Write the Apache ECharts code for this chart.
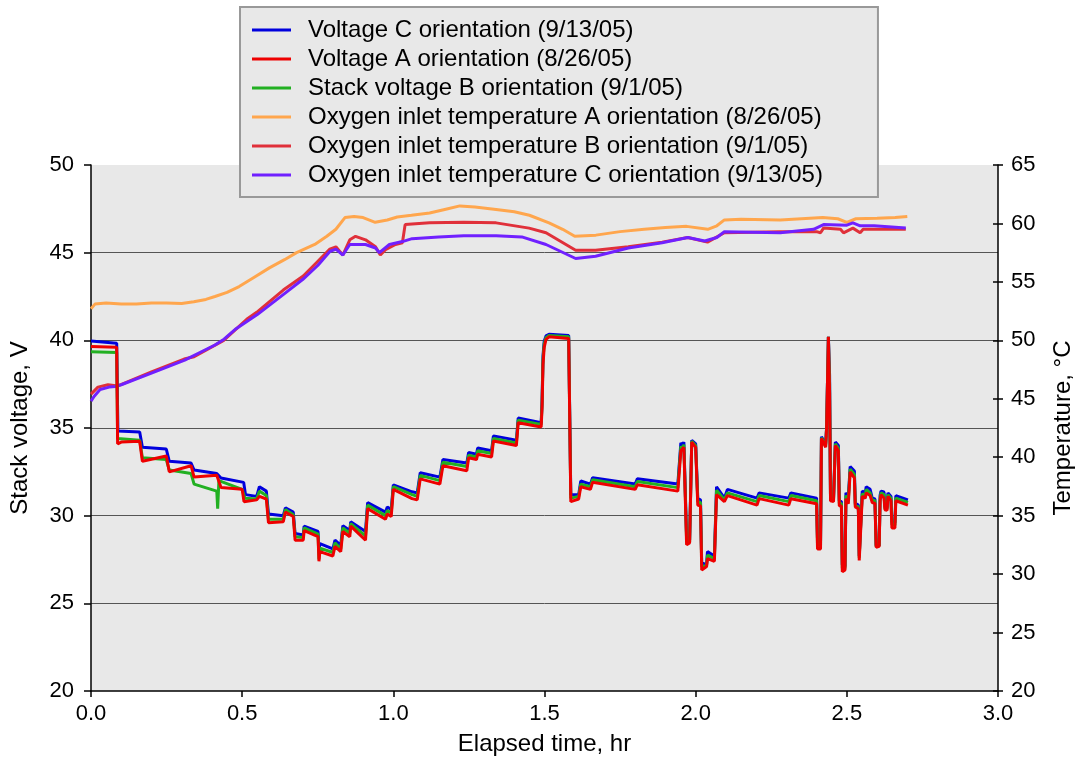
<!DOCTYPE html>
<html>
<head>
<meta charset="utf-8">
<script src="https://cdn.jsdelivr.net/npm/echarts@6/dist/echarts.min.js"></script>
<style>html,body{margin:0;padding:0;background:#fff}#c{width:1083px;height:761px}</style>
</head>
<body>
<div id="c"></div>
<script>
// Elapsed time (hr), value pairs
const voltageC = [[0,39.96],[0.085,39.83],[0.089,34.83],[0.161,34.77],[0.166,34.7],[0.170,33.9],[0.249,33.8],[0.259,33.1],[0.331,33.0],[0.341,32.6],[0.416,32.4],[0.430,32.15],[0.505,31.9],[0.511,31.2],[0.548,31.1],[0.557,31.65],[0.580,31.4],[0.587,30.1],[0.636,30.0],[0.643,30.45],[0.669,30.2],[0.675,28.98],[0.702,28.9],[0.705,29.4],[0.751,29.1],[0.754,28.0],[0.757,28.4],[0.800,28.1],[0.807,28.6],[0.826,28.3],[0.833,29.43],[0.856,29.15],[0.859,29.65],[0.908,29.1],[0.915,30.74],[0.974,30.2],[0.980,30.5],[0.993,30.35],[1.0,31.76],[1.062,31.36],[1.079,31.3],[1.089,32.45],[1.154,32.2],[1.164,33.2],[1.243,33.0],[1.249,33.6],[1.275,33.5],[1.279,33.86],[1.325,33.7],[1.331,34.55],[1.407,34.3],[1.413,35.57],[1.489,35.3],[1.492,36.6],[1.495,39.1],[1.499,39.95],[1.505,40.25],[1.515,40.34],[1.580,40.28],[1.587,31.2],[1.593,31.3],[1.613,31.2],[1.620,31.98],[1.652,31.8],[1.659,32.16],[1.800,31.8],[1.807,32.1],[1.941,31.8],[1.951,34.15],[1.957,34.0],[1.961,34.2],[1.967,34.1],[1.970,28.8],[1.980,28.6],[1.987,34.3],[2.0,34.1],[2.007,30.97],[2.016,30.9],[2.020,27.3],[2.036,27.2],[2.039,27.95],[2.062,27.7],[2.069,31.65],[2.095,31.0],[2.105,31.5],[2.203,31.0],[2.210,31.3],[2.308,31.0],[2.315,31.3],[2.400,31.0],[2.403,28.6],[2.413,28.5],[2.416,34.5],[2.430,34.1],[2.433,35.0],[2.439,40.2],[2.443,38.0],[2.446,31.0],[2.456,31.0],[2.462,34.2],[2.472,34.0],[2.475,30.85],[2.482,30.8],[2.485,27.2],[2.494,27.1],[2.497,31.3],[2.505,31.1],[2.511,32.8],[2.525,32.55],[2.528,30.7],[2.538,30.6],[2.541,27.7],[2.547,27.6],[2.551,31.4],[2.561,31.3],[2.564,31.65],[2.577,31.5],[2.584,31.0],[2.593,30.95],[2.597,28.3],[2.607,28.3],[2.610,31.16],[2.613,31.4],[2.623,31.35],[2.626,30.5],[2.633,30.45],[2.636,31.3],[2.646,31.1],[2.649,29.66],[2.659,29.6],[2.662,31.14],[2.702,30.9]];

const voltageA = [[0,39.65],[0.085,39.6],[0.088,34.1],[0.100,34.2],[0.161,34.25],[0.166,34.2],[0.170,33.1],[0.249,33.4],[0.259,32.5],[0.331,32.85],[0.341,32.2],[0.416,32.3],[0.430,31.6],[0.500,31.5],[0.506,30.8],[0.548,30.9],[0.557,31.1],[0.580,30.95],[0.587,29.6],[0.636,29.65],[0.643,30.2],[0.669,29.95],[0.675,28.6],[0.702,28.6],[0.705,29.15],[0.751,28.8],[0.754,27.4],[0.757,27.95],[0.800,27.7],[0.807,28.25],[0.826,27.95],[0.833,29.1],[0.856,28.8],[0.859,29.4],[0.908,28.6],[0.915,30.4],[0.974,29.8],[0.980,30.1],[0.993,29.95],[1.0,31.5],[1.062,30.97],[1.079,30.9],[1.089,32.1],[1.154,31.8],[1.164,32.85],[1.243,32.56],[1.249,33.3],[1.275,33.2],[1.279,33.5],[1.325,33.35],[1.331,34.26],[1.407,34.0],[1.413,35.3],[1.489,35.06],[1.492,36.2],[1.495,38.6],[1.499,39.6],[1.505,40.05],[1.515,40.2],[1.580,40.1],[1.587,30.8],[1.593,30.85],[1.613,30.95],[1.620,31.65],[1.652,31.5],[1.659,31.9],[1.800,31.5],[1.807,31.76],[1.941,31.4],[1.951,33.7],[1.957,33.6],[1.961,33.9],[1.967,33.8],[1.970,28.35],[1.980,28.45],[1.987,34.2],[2.0,33.9],[2.007,30.6],[2.016,30.55],[2.020,26.9],[2.036,27.1],[2.039,27.55],[2.062,27.4],[2.069,31.2],[2.095,30.8],[2.105,31.14],[2.203,30.6],[2.210,30.97],[2.308,30.6],[2.315,30.97],[2.400,30.68],[2.403,28.1],[2.413,28.1],[2.416,34.4],[2.430,33.9],[2.433,35.0],[2.439,40.2],[2.443,37.0],[2.446,30.85],[2.456,30.8],[2.462,34.0],[2.472,33.7],[2.475,30.57],[2.482,30.55],[2.485,26.8],[2.494,26.9],[2.497,30.97],[2.505,30.68],[2.511,32.5],[2.525,32.15],[2.528,30.5],[2.538,30.4],[2.541,27.45],[2.547,27.5],[2.551,31.1],[2.561,31.0],[2.564,31.3],[2.577,31.15],[2.584,30.75],[2.593,30.7],[2.597,28.2],[2.607,28.25],[2.610,30.85],[2.613,31.2],[2.623,31.0],[2.626,30.34],[2.633,30.3],[2.636,31.1],[2.646,30.85],[2.649,29.3],[2.659,29.3],[2.662,30.85],[2.702,30.6]];

const voltageB = [[0,39.35],[0.085,39.3],[0.088,34.4],[0.161,34.3],[0.166,34.25],[0.170,33.3],[0.249,33.2],[0.259,32.6],[0.331,32.4],[0.341,31.8],[0.416,31.4],[0.419,30.4],[0.423,32.0],[0.500,31.5],[0.509,31.0],[0.548,30.95],[0.557,31.4],[0.580,31.15],[0.587,29.8],[0.636,29.8],[0.643,30.35],[0.669,30.05],[0.675,28.8],[0.702,28.75],[0.705,29.3],[0.751,28.95],[0.754,27.5],[0.757,28.15],[0.800,27.9],[0.807,28.45],[0.826,28.1],[0.833,29.3],[0.856,29.0],[0.859,29.55],[0.908,28.85],[0.915,30.6],[0.974,30.0],[0.980,30.3],[0.993,30.15],[1.0,31.65],[1.062,31.2],[1.079,31.1],[1.089,32.3],[1.154,32.0],[1.164,33.05],[1.243,32.8],[1.249,33.45],[1.275,33.35],[1.279,33.7],[1.325,33.55],[1.331,34.4],[1.407,34.15],[1.413,35.45],[1.489,35.2],[1.492,36.4],[1.495,38.9],[1.499,39.8],[1.505,40.15],[1.515,40.28],[1.580,40.2],[1.587,31.0],[1.593,31.1],[1.613,31.1],[1.620,31.8],[1.652,31.65],[1.659,32.05],[1.800,31.65],[1.807,31.95],[1.941,31.6],[1.951,33.95],[1.957,33.8],[1.961,34.05],[1.967,33.95],[1.970,28.6],[1.980,28.5],[1.987,34.25],[2.0,34.0],[2.007,30.8],[2.016,30.75],[2.020,27.1],[2.036,27.15],[2.039,27.75],[2.062,27.55],[2.069,31.45],[2.095,30.9],[2.105,31.3],[2.203,30.8],[2.210,31.15],[2.308,30.8],[2.315,31.15],[2.400,30.85],[2.403,28.35],[2.413,28.3],[2.416,34.45],[2.430,34.0],[2.433,35.0],[2.439,40.2],[2.443,37.5],[2.446,30.95],[2.456,30.9],[2.462,34.1],[2.472,33.85],[2.475,30.7],[2.482,30.7],[2.485,27.0],[2.494,27.0],[2.497,31.15],[2.505,30.9],[2.511,32.65],[2.525,32.35],[2.528,30.6],[2.538,30.5],[2.541,27.6],[2.547,27.55],[2.551,31.25],[2.561,31.15],[2.564,31.5],[2.577,31.3],[2.584,30.9],[2.593,30.85],[2.597,28.25],[2.607,28.3],[2.610,31.0],[2.613,31.3],[2.623,31.2],[2.626,30.42],[2.633,30.38],[2.636,31.2],[2.646,31.0],[2.649,29.5],[2.659,29.45],[2.662,31.0],[2.702,30.75]];

const tempA = [[0,52.7],[0.013,53.1],[0.05,53.2],[0.1,53.1],[0.15,53.1],[0.2,53.2],[0.25,53.2],[0.3,53.15],[0.34,53.3],[0.38,53.5],[0.41,53.75],[0.45,54.1],[0.49,54.6],[0.54,55.4],[0.59,56.2],[0.64,56.9],[0.68,57.5],[0.74,58.2],[0.78,58.9],[0.81,59.5],[0.84,60.5],[0.87,60.6],[0.90,60.5],[0.94,60.1],[0.98,60.3],[1.013,60.55],[1.06,60.7],[1.12,60.9],[1.17,61.2],[1.22,61.5],[1.27,61.4],[1.34,61.2],[1.40,61.0],[1.45,60.7],[1.515,60.05],[1.56,59.5],[1.60,58.9],[1.67,59.0],[1.75,59.3],[1.83,59.5],[1.90,59.65],[1.97,59.75],[2.04,59.5],[2.07,59.8],[2.095,60.3],[2.15,60.35],[2.28,60.3],[2.35,60.4],[2.42,60.5],[2.47,60.4],[2.50,60.1],[2.53,60.4],[2.60,60.45],[2.66,60.5],[2.70,60.6]];

const tempB = [[0,45.4],[0.023,46.0],[0.056,46.2],[0.089,46.1],[0.2,47.3],[0.308,48.4],[0.341,48.6],[0.439,50.0],[0.515,51.8],[0.548,52.4],[0.636,54.3],[0.702,55.5],[0.744,56.6],[0.79,57.8],[0.81,58.0],[0.823,57.6],[0.833,57.3],[0.856,58.6],[0.875,58.9],[0.908,58.6],[0.941,58.0],[0.957,57.3],[0.974,57.75],[1.007,58.2],[1.03,58.35],[1.039,59.9],[1.12,60.05],[1.233,60.1],[1.34,60.05],[1.449,59.6],[1.505,59.2],[1.603,57.7],[1.669,57.7],[1.777,58.0],[1.889,58.4],[1.974,58.8],[2.039,58.4],[2.095,59.2],[2.28,59.3],[2.40,59.3],[2.413,59.2],[2.423,59.6],[2.479,59.5],[2.489,59.2],[2.52,59.6],[2.544,59.2],[2.554,59.5],[2.695,59.5]];

const tempC = [[0,44.8],[0.01,45.2],[0.03,45.8],[0.06,46.0],[0.08,46.05],[0.1,46.2],[0.2,47.2],[0.31,48.3],[0.41,49.6],[0.44,50.1],[0.48,51.0],[0.55,52.2],[0.64,54.0],[0.70,55.2],[0.75,56.4],[0.79,57.6],[0.81,57.8],[0.833,57.3],[0.856,58.2],[0.908,58.2],[0.941,57.9],[0.954,57.5],[0.987,58.2],[1.03,58.45],[1.062,58.7],[1.15,58.85],[1.233,58.95],[1.34,58.95],[1.425,58.85],[1.505,58.2],[1.603,57.0],[1.669,57.2],[1.777,57.9],[1.889,58.35],[1.974,58.8],[2.03,58.5],[2.07,58.8],[2.095,59.3],[2.28,59.2],[2.39,59.5],[2.423,59.9],[2.50,59.85],[2.52,60.05],[2.544,59.8],[2.59,59.8],[2.695,59.6]];

const seriesNames = ['Voltage C orientation (9/13/05)','Voltage A orientation (8/26/05)','Stack voltage B orientation (9/1/05)','Oxygen inlet temperature A orientation (8/26/05)','Oxygen inlet temperature B orientation (9/1/05)','Oxygen inlet temperature C orientation (9/13/05)'];
const seriesColors = ['#0000dd','#ee0000','#22b022','#ffa64d','#e0303a','#7020ff'];

const FONT = 'Liberation Sans, Arial, sans-serif';
const chart = echarts.init(document.getElementById('c'), null, {renderer:'canvas'});

function line(i, data, yIdx, z) {
  return {
    name: seriesNames[i], type:'line', data: data, yAxisIndex: yIdx,
    showSymbol:false, symbol:'none', smooth:false, z: z,
    lineStyle:{color: seriesColors[i], width: 3},
    itemStyle:{color: seriesColors[i]}
  };
}

chart.setOption({
  animation:false,
  backgroundColor:'#ffffff',
  grid:{left:91, right:79, top:165, bottom:68, show:true, backgroundColor:'#e8e8e8', borderWidth:0},
  legend:{
    data: seriesNames,
    orient:'vertical', left:240, top:7,
    padding:[11,55,10,12],
    itemWidth:39, itemHeight:3, itemGap:5, icon:'rect',
    backgroundColor:'#e8e8e8', borderColor:'#999999', borderWidth:2,
    textStyle:{fontSize:24, lineHeight:20, color:'#000', fontFamily:FONT, padding:[0,0,0,12]},
    z: 20
  },
  xAxis:{
    type:'value', min:0, max:3, interval:0.5,
    name:'Elapsed time, hr', nameLocation:'middle', nameGap:41,
    nameTextStyle:{fontSize:24, color:'#000', fontFamily:FONT},
    axisLine:{show:true, lineStyle:{color:'#000', width:1.5}},
    axisTick:{show:true, inside:false, length:6, lineStyle:{color:'#000', width:1.5}},
    axisLabel:{fontSize:22, color:'#000', fontFamily:FONT, margin:12, formatter:v=>v.toFixed(1)},
    splitLine:{show:false}
  },
  yAxis:[
    {
      type:'value', min:20, max:50, interval:5, position:'left',
      name:'Stack voltage, V', nameLocation:'middle', nameGap:59, nameRotate:90,
      nameTextStyle:{fontSize:24, color:'#000', fontFamily:FONT},
      axisLine:{show:true, lineStyle:{color:'#000', width:1.5}},
      axisTick:{show:true, inside:false, length:7, lineStyle:{color:'#000', width:1.5}},
      axisLabel:{fontSize:22, color:'#000', fontFamily:FONT, margin:17},
      splitLine:{show:true, showMinLine:false, showMaxLine:false, lineStyle:{color:'#555', width:1}}
    },
    {
      type:'value', min:20, max:65, interval:5, position:'right',
      name:'Temperature, °C', nameLocation:'middle', nameGap:53, nameRotate:90,
      nameTextStyle:{fontSize:24, color:'#000', fontFamily:FONT},
      axisLine:{show:true, lineStyle:{color:'#000', width:1.5}},
      axisTick:{show:true, inside:false, length:5, lineStyle:{color:'#000', width:1.5}},
      axisLabel:{fontSize:22, color:'#000', fontFamily:FONT, margin:13},
      splitLine:{show:false}
    },
    {
      type:'value', min:20, max:65, interval:5, position:'right',
      axisLine:{show:false},
      axisTick:{show:true, inside:true, length:5, lineStyle:{color:'#000', width:1.5}},
      axisLabel:{show:false},
      splitLine:{show:false}
    }
  ],
  series:[
    line(3, tempA, 1, 2),
    line(4, tempB, 1, 3),
    line(5, tempC, 1, 4),
    line(0, voltageC, 0, 5),
    line(2, voltageB, 0, 6),
    line(1, voltageA, 0, 7)
  ]
});
</script>
</body>
</html>
